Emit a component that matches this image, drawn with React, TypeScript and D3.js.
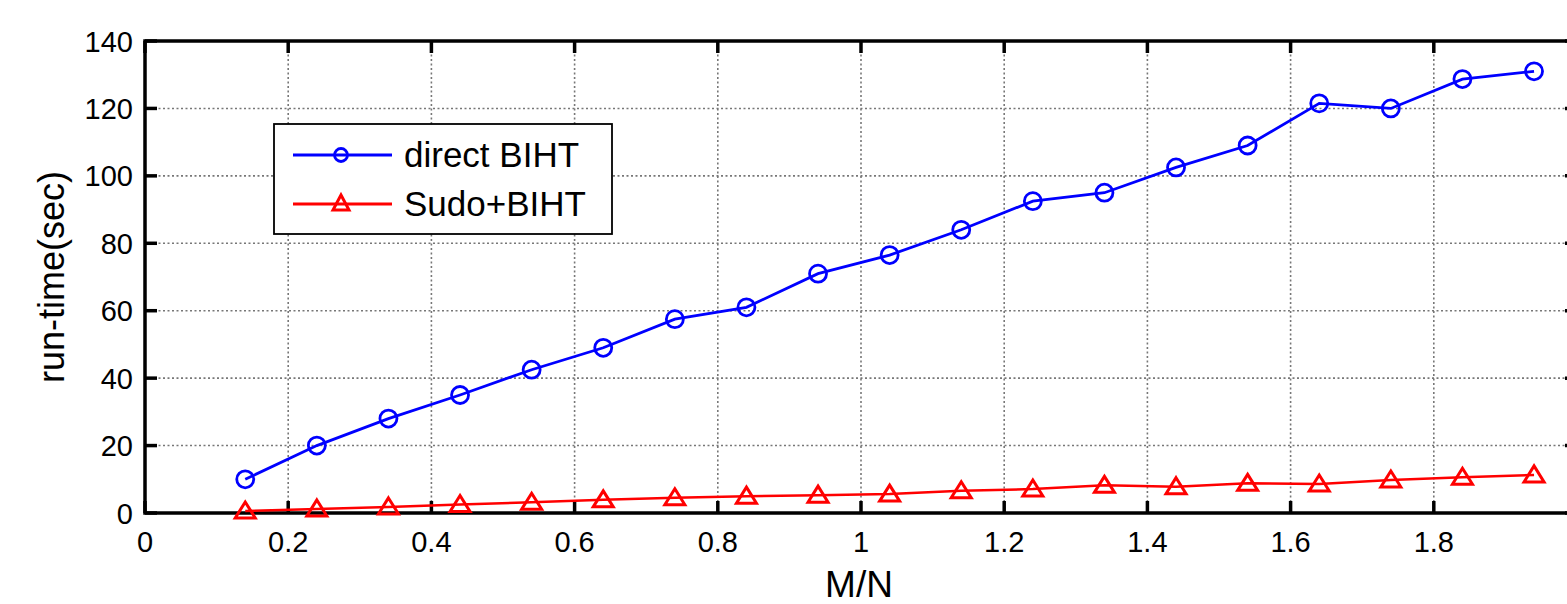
import * as d3 from 'd3';
import * as React from 'react';
import { Component } from 'react';

const ratios: number[] = [0.14, 0.24, 0.34, 0.44, 0.54, 0.64, 0.74, 0.84, 0.94, 1.04, 1.14, 1.24, 1.34, 1.44, 1.54, 1.64, 1.74, 1.84, 1.94];
const directBiht: number[] = [10, 20, 28, 35, 42.5, 49, 57.5, 61, 71, 76.5, 84, 92.5, 95, 102.5, 109, 121.5, 120, 128.7, 131];
const sudoBiht: number[] = [0.6, 1.2, 1.8, 2.5, 3.2, 3.9, 4.5, 5, 5.3, 5.6, 6.6, 7.1, 8.2, 7.8, 8.8, 8.6, 9.8, 10.6, 11.3];
const xTicks: number[] = [0, 0.2, 0.4, 0.6, 0.8, 1, 1.2, 1.4, 1.6, 1.8, 2];
const yTicks: number[] = [0, 20, 40, 60, 80, 100, 120, 140];
const seriesNames: string[] = ['direct BIHT', 'Sudo+BIHT'];

interface IProps {
  width: number;
  height: number;
}

interface IRefs {
  mountPoint?: SVGSVGElement | null;
}

const FONT = '"Liberation Sans", Arial, sans-serif';

class RunTimeChart extends Component<IProps> {

  private ctrls: IRefs = {};

  public componentDidMount() {
    this.renderChart();
  }

  public render() {
    const { width, height } = this.props;
    return (
      <svg
        width={width}
        height={height}
        style={{ position: 'absolute', left: 0, top: 0, background: '#fff' }}
        ref={el => (this.ctrls.mountPoint = el)}
      />
    );
  }

  private renderChart = () => {
    if (!this.ctrls.mountPoint) {
      return;
    }
    const { width } = this.props;
    const svg = d3.select(this.ctrls.mountPoint);
    svg.selectAll('*').remove();

    // the right edge of the axes box lies just past the picture, as in the original crop
    const left = 145;
    const right = 1577;
    const top = 41;
    const bottom = 513;

    const x = d3.scaleLinear().domain([0, 2]).range([left, right]);
    const y = d3.scaleLinear().domain([0, 140]).range([bottom, top]);

    // grid
    const grid = svg.append('g').attr('stroke', '#777').attr('stroke-width', 1.6).attr('stroke-dasharray', '2,2.5');
    grid.selectAll('line.gx')
      .data(xTicks.slice(1, -1))
      .enter().append('line')
      .attr('x1', d => x(d)).attr('x2', d => x(d))
      .attr('y1', top).attr('y2', bottom);
    grid.selectAll('line.gy')
      .data(yTicks.slice(1, -1))
      .enter().append('line')
      .attr('x1', left).attr('x2', right)
      .attr('y1', d => y(d)).attr('y2', d => y(d));

    // ticks (inward, on all four sides)
    const ticks = svg.append('g').attr('stroke', '#000').attr('stroke-width', 3.5);
    xTicks.forEach(t => {
      ticks.append('line').attr('x1', x(t)).attr('x2', x(t)).attr('y1', bottom).attr('y2', bottom - 12);
      ticks.append('line').attr('x1', x(t)).attr('x2', x(t)).attr('y1', top).attr('y2', top + 12);
    });
    yTicks.forEach(t => {
      ticks.append('line').attr('x1', left).attr('x2', left + 12).attr('y1', y(t)).attr('y2', y(t));
      ticks.append('line').attr('x1', right).attr('x2', right - 12).attr('y1', y(t)).attr('y2', y(t));
    });

    // frame
    svg.append('rect')
      .attr('x', left).attr('y', top)
      .attr('width', right - left).attr('height', bottom - top)
      .attr('fill', 'none').attr('stroke', '#000').attr('stroke-width', 3.5);

    // tick labels (only the ones that fall inside the picture)
    svg.append('g').selectAll('text')
      .data(xTicks.filter(d => x(d) < width - 20))
      .enter().append('text')
      .attr('x', d => x(d)).attr('y', 552)
      .attr('text-anchor', 'middle')
      .attr('font-family', FONT).attr('font-size', 29)
      .text(d => d3.format('~g')(d));
    svg.append('g').selectAll('text')
      .data(yTicks)
      .enter().append('text')
      .attr('x', left - 12).attr('y', d => y(d) + 10.5)
      .attr('text-anchor', 'end')
      .attr('font-family', FONT).attr('font-size', 29)
      .text(d => String(d));

    // axis titles
    svg.append('text')
      .attr('x', (left + right) / 2 - 2).attr('y', 597)
      .attr('text-anchor', 'middle')
      .attr('font-family', FONT).attr('font-size', 37)
      .text('M/N');
    svg.append('text')
      .attr('transform', `translate(64,${(top + bottom) / 2}) rotate(-90)`)
      .attr('text-anchor', 'middle')
      .attr('font-family', FONT).attr('font-size', 36)
      .text('run-time(sec)');

    const line = d3.line<[number, number]>().x(d => x(d[0])).y(d => y(d[1]));
    const blue = ratios.map((r, i) => [r, directBiht[i]] as [number, number]);
    const red = ratios.map((r, i) => [r, sudoBiht[i]] as [number, number]);

    const tri = (cx: number, cy: number) =>
      `M${cx},${cy - 9} L${cx + 10},${cy + 7} L${cx - 10},${cy + 7} Z`;

    // red series
    svg.append('path').datum(red)
      .attr('d', line).attr('fill', 'none').attr('stroke', '#ff0000').attr('stroke-width', 2.5);
    svg.append('g').selectAll('path')
      .data(red)
      .enter().append('path')
      .attr('d', d => tri(x(d[0]), y(d[1])))
      .attr('fill', 'none').attr('stroke', '#ff0000').attr('stroke-width', 3);

    // blue series
    svg.append('path').datum(blue)
      .attr('d', line).attr('fill', 'none').attr('stroke', '#0000ff').attr('stroke-width', 2.8);
    svg.append('g').selectAll('circle')
      .data(blue)
      .enter().append('circle')
      .attr('cx', d => x(d[0])).attr('cy', d => y(d[1]))
      .attr('r', 8.5)
      .attr('fill', 'none').attr('stroke', '#0000ff').attr('stroke-width', 2.8);

    // legend
    const lg = svg.append('g');
    lg.append('rect')
      .attr('x', 274).attr('y', 124).attr('width', 338).attr('height', 110)
      .attr('fill', '#fff').attr('stroke', '#000').attr('stroke-width', 1.8);
    const colors = ['#0000ff', '#ff0000'];
    seriesNames.forEach((name, i) => {
      const ly = 155 + i * 49;
      lg.append('line')
        .attr('x1', 293).attr('x2', 392).attr('y1', ly).attr('y2', ly)
        .attr('stroke', colors[i]).attr('stroke-width', 2.8);
      if (i === 0) {
        lg.append('circle').attr('cx', 341).attr('cy', ly).attr('r', 6.5)
          .attr('fill', 'none').attr('stroke', colors[i]).attr('stroke-width', 2.8);
      } else {
        lg.append('path').attr('d', `M341,${ly - 9} L349,${ly + 6} L333,${ly + 6} Z`)
          .attr('fill', 'none').attr('stroke', colors[i]).attr('stroke-width', 3);
      }
      lg.append('text')
        .attr('x', 404).attr('y', ly + 12)
        .attr('font-family', FONT).attr('font-size', 35)
        .text(name);
    });
  }
}

export default function App() {
  return <RunTimeChart width={1567} height={604} />;
}
